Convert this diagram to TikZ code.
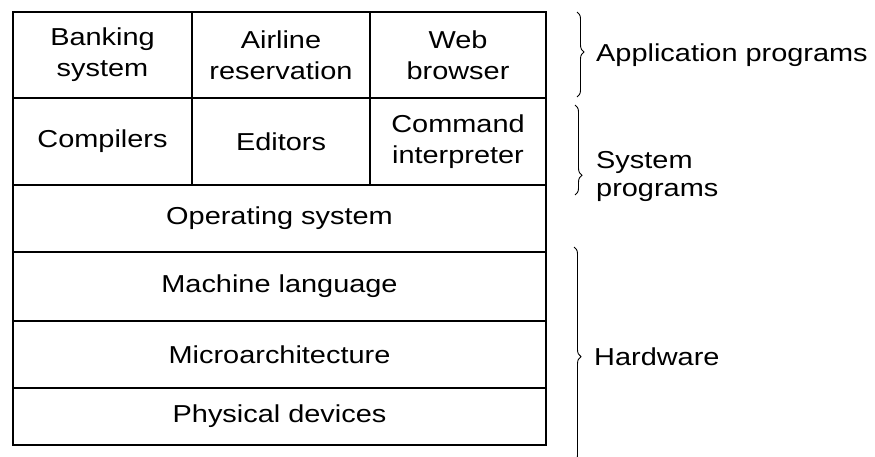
\documentclass[tikz,border=0pt]{standalone}
\usepackage{fontspec}
\setmainfont{Liberation Sans}[FakeStretch=1.18]
\usetikzlibrary{decorations.pathreplacing}
\begin{document}
\begin{tikzpicture}[x=1pt,y=-1pt,
  cell/.style={draw, line width=1.6pt, inner sep=0pt, outer sep=0pt, align=center,
    font=\fontsize{24.5}{31}\selectfont},
  lab/.style={inner sep=0pt, anchor=west, align=left, font=\fontsize{24.5}{28}\selectfont},
  brc/.style={decorate, decoration={brace, amplitude=7pt, aspect=#1}, line width=0.9pt}]
\useasboundingbox (0,0) rectangle (875,457);
% row 1
\node[cell, minimum width=179pt, minimum height=86pt] (bank) at (102.5,55) {Banking\\system};
\node[cell, minimum width=178pt, minimum height=86pt] (air) at (281,55) {Airline\\reservation};
\node[cell, minimum width=176pt, minimum height=86pt] (web) at (458,55) {Web\\browser};
% row 2
\node[cell, minimum width=179pt, minimum height=87pt] (comp) at (102.5,141.5) {Compilers};
\node[cell, minimum width=178pt, minimum height=87pt] (edit) at (281,141.5) {Editors};
\node[cell, minimum width=176pt, minimum height=87pt] (cmd) at (458,141.5) {Command\\interpreter};
% full rows
\node[cell, minimum width=533pt, minimum height=67pt] (os) at (279.5,218.5) {Operating system};
\node[cell, minimum width=533pt, minimum height=69pt] (ml) at (279.5,286.5) {Machine language};
\node[cell, minimum width=533pt, minimum height=67pt] (micro) at (279.5,354.5) {Microarchitecture};
\node[cell, minimum width=533pt, minimum height=57pt] (phys) at (279.5,416.5) {Physical devices};
% outer frame
\draw[line width=2.4pt] (bank.north west) rectangle (phys.south east);
% braces
\coordinate (a1) at (577,12);  \coordinate (a2) at (577,97);
\coordinate (s1) at (575,105); \coordinate (s2) at (575,195);
\coordinate (h1) at (574,247); \coordinate (h2) at (574,462);
\draw[brc=0.47] (a1) -- (a2);
\draw[brc=0.78] (s1) -- (s2);
\draw[brc=0.51] (h1) -- (h2);
% labels
\node[lab] (app) at (596,55) {Application programs};
\node[lab] (sys) at (596,176) {System\\programs};
\node[lab] (hw) at (594,357) {Hardware};
\end{tikzpicture}
\end{document}
